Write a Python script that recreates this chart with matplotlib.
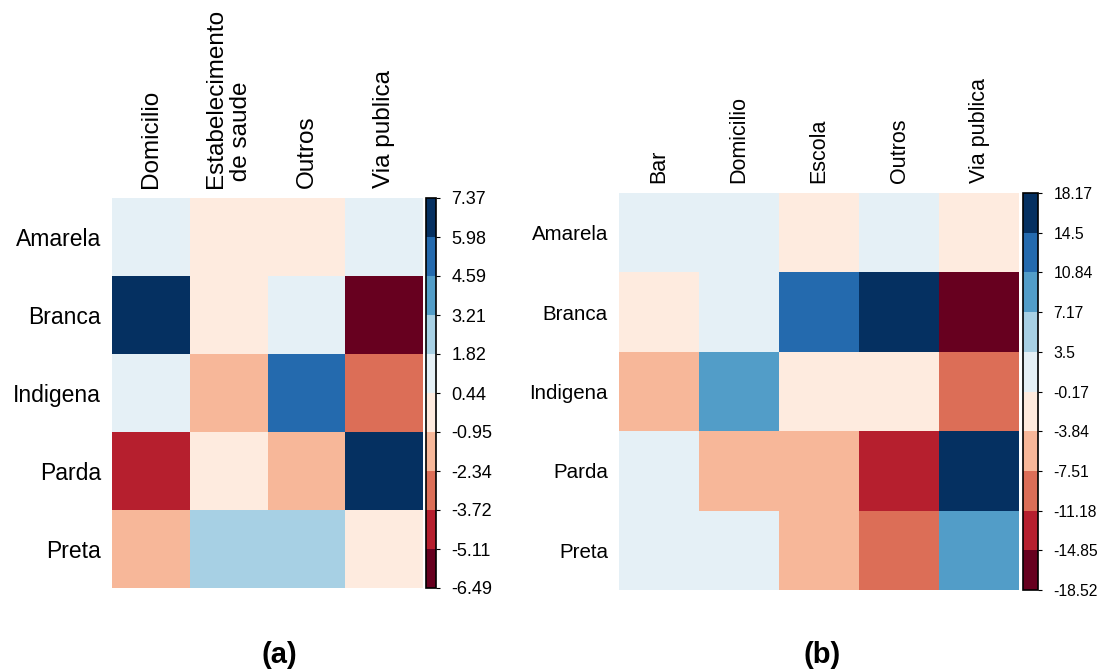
import numpy as np
import matplotlib
matplotlib.use("Agg")
import matplotlib.pyplot as plt
from matplotlib.colors import LinearSegmentedColormap, ListedColormap, BoundaryNorm
from matplotlib.cm import ScalarMappable

plt.rcParams['font.family'] = ['Liberation Sans', 'DejaVu Sans']

# row categories shared by both panels
races = ["Amarela", "Branca", "Indigena", "Parda", "Preta"]

# (a) places of occurrence and residuals
places_a = ["Domicilio", "Estabelecimento\n de saude", "Outros", "Via publica"]
resid_a_amarela = [1.12, -0.31, -0.52, 0.87]
resid_a_branca = [6.94, -0.22, 0.63, -6.4945]
resid_a_indigena = [0.76, -1.58, 5.21, -3.07]
resid_a_parda = [-4.63, -0.41, -1.87, 7.3665]
resid_a_preta = [-1.49, 2.38, 2.12, -0.58]

# (b) places of occurrence and residuals
places_b = ["Bar", "Domicilio", "Escola", "Outros", "Via publica"]
resid_b_amarela = [1.34, 0.92, -1.21, 1.05, -2.46]
resid_b_branca = [-1.87, 1.63, 12.41, 18.1735, -18.5155]
resid_b_indigena = [-5.62, 8.93, -1.04, -2.18, -9.37]
resid_b_parda = [2.07, -5.34, -6.12, -13.26, 16.38]
resid_b_preta = [1.71, 0.48, -4.93, -8.84, 9.27]

# RdBu ramp, cut into 10 discrete colours
ramp = LinearSegmentedColormap.from_list(
    "rdbu", ["#67001F", "#B2182B", "#D6604D", "#F4A582", "#FDDBC7", "#FFFFFF",
             "#D1E5F0", "#92C5DE", "#4393C3", "#2166AC", "#053061"])
n_bins = 10
cmap = ListedColormap([ramp(v) for v in np.linspace(0, 1, n_bins)])
cmap.set_over(cmap(n_bins - 1))
cmap.set_under(cmap(0))

W, H = 1105, 671


def px_rect(x0, y0, x1, y1):
    # pixel box (top-left origin) -> figure fraction rect
    return [x0 / W, 1 - y1 / H, (x1 - x0) / W, (y1 - y0) / H]


def fmt(v):
    s = "%.2f" % v
    s = s.rstrip("0").rstrip(".")
    return s


def draw_panel(fig, grid_box, cbar_box, data, rows, cols, row_size, col_size, cb_size):
    data = np.array(data)
    lo, hi = data.min(), data.max()
    bounds = np.linspace(lo, hi, n_bins + 1)
    norm = BoundaryNorm(bounds, n_bins)

    ax = fig.add_axes(px_rect(*grid_box))
    ax.pcolormesh(np.arange(len(cols) + 1), np.arange(len(rows) + 1), data,
                  cmap=cmap, norm=norm, edgecolors="face", linewidth=0)
    ax.set_xlim(0, len(cols))
    ax.set_ylim(len(rows), 0)
    for sp in ax.spines.values():
        sp.set_visible(False)

    ax.xaxis.tick_top()
    ax.set_xticks(np.arange(len(cols)) + 0.5)
    ax.set_xticklabels(cols, rotation=90, fontsize=col_size, multialignment="left")
    ax.set_yticks(np.arange(len(rows)) + 0.5)
    ax.set_yticklabels(rows, fontsize=row_size)
    ax.tick_params(axis="x", length=0, pad=7)
    ax.tick_params(axis="y", length=0, pad=8)

    cax = fig.add_axes(px_rect(*cbar_box))
    cb = fig.colorbar(ScalarMappable(norm=norm, cmap=cmap), cax=cax, ticks=bounds)
    cb.ax.set_yticklabels([fmt(b) for b in bounds])
    cb.ax.tick_params(length=3, width=0.8, labelsize=cb_size, pad=8)
    cb.outline.set_linewidth(1.2)
    return ax


fig = plt.figure(figsize=(W / 100, H / 100), dpi=100)

values_a = [resid_a_amarela, resid_a_branca, resid_a_indigena, resid_a_parda, resid_a_preta]
values_b = [resid_b_amarela, resid_b_branca, resid_b_indigena, resid_b_parda, resid_b_preta]

draw_panel(fig, (112, 198, 423, 588), (426, 198, 436, 588),
           values_a, races, places_a, 16.5, 17.5, 13)
draw_panel(fig, (619, 193, 1019, 590), (1023, 193, 1038, 590),
           values_b, races, places_b, 14.8, 15.5, 11.3)

fig.text(279 / W, 1 - 655 / H, "(a)", fontsize=21, fontweight="bold",
         ha="center", va="center")
fig.text(822 / W, 1 - 655 / H, "(b)", fontsize=21, fontweight="bold",
         ha="center", va="center")

fig.savefig("out.png", dpi=100)
